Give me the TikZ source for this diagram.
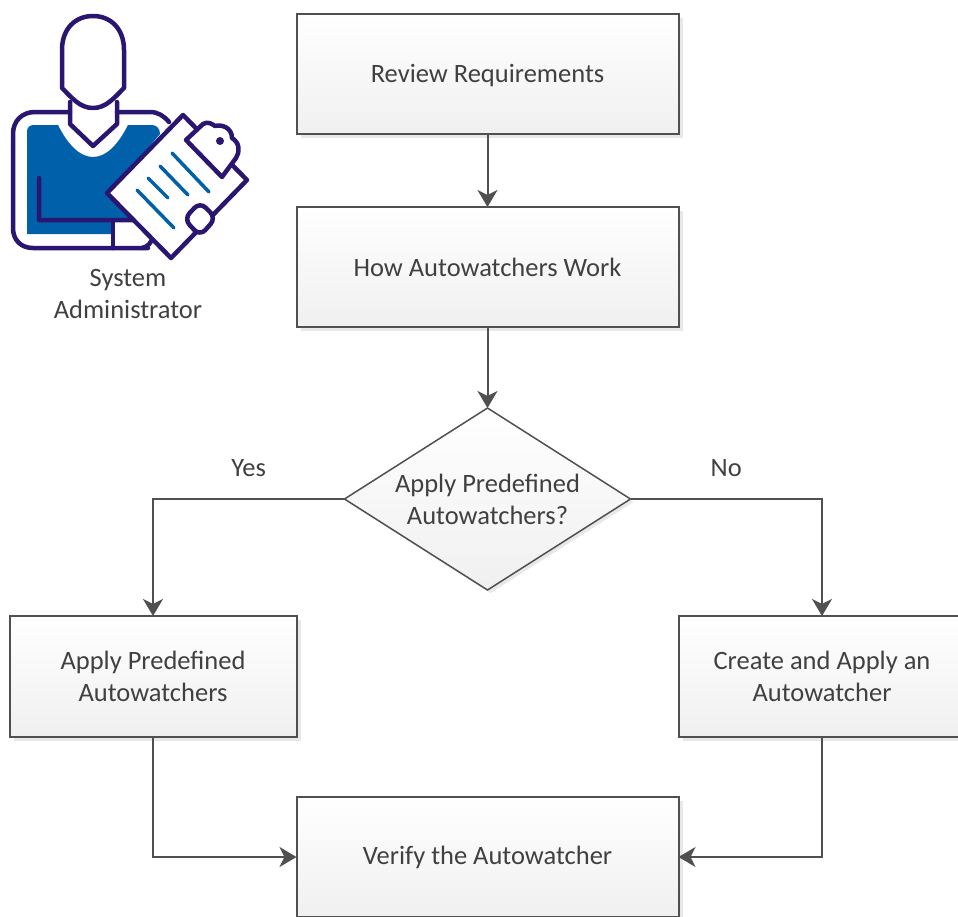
\documentclass[tikz,border=0pt]{standalone}
\usepackage{fontspec}
\setmainfont{Carlito}
\usepackage{xcolor}
\usetikzlibrary{shapes.geometric, arrows.meta, positioning, shadows}
\definecolor{line-gray}{RGB}{80,80,80}
\definecolor{text-gray}{RGB}{64,64,64}
\definecolor{admin-navy}{RGB}{42,22,112}
\definecolor{admin-blue}{RGB}{0,96,169}

\begin{document}
\begin{tikzpicture}[
    x=1pt, y=-1pt,
    box/.style={rectangle, draw=line-gray, line width=2pt, outer sep=0pt, minimum width=382pt, minimum height=120pt, top color=white, bottom color=black!6, drop shadow={shadow xshift=4pt, shadow yshift=-4pt, fill=black!9, opacity=1}, text=text-gray, align=center, font=\fontsize{26.5}{32}\selectfont},
    sidebox/.style={box, minimum width=287pt, minimum height=121pt},
    choice/.style={diamond, draw=line-gray, line width=1.5pt, outer sep=0pt, inner sep=0pt, aspect=1.57, minimum width=286pt, minimum height=182pt, top color=white, bottom color=black!6, drop shadow={shadow xshift=3pt, shadow yshift=-3pt, fill=black!9, opacity=1}, text=text-gray, align=center, font=\fontsize{26.5}{32}\selectfont},
    lbl/.style={text=text-gray, align=center, font=\fontsize{26.5}{32}\selectfont},
    arrow/.style={-{Stealth[length=17pt, width=20pt, inset=5pt]}, line-gray, line width=2pt},
    figure/.style={admin-navy, line width=4.5pt, line join=round, line cap=round}
]
\useasboundingbox (0,0) rectangle (958,916);

% Steps
\node[box, text height=21pt] at (487.5,74) (review) {Review Requirements};
\node[box, below=73pt of review] (how) {How Autowatchers Work};
\node[choice, below=81pt of how] (predef) {Apply Predefined\\Autowatchers?};
\node[sidebox, below left=26pt and 191pt of predef.south] (apply) {Apply Predefined\\Autowatchers};
\node[sidebox, below right=26pt and 191pt of predef.south] (create) {Create and Apply an\\Autowatcher};
\node[box, below=207pt of predef] (verify) {Verify the Autowatcher};

% Arrows
\draw[arrow] (review) -- (how);
\draw[arrow] (how) -- (predef);
\draw[arrow] (predef.west) -| node[pos=0.25, above=18pt, lbl] (yes) {Yes} (apply);
\draw[arrow] (predef.east) -| node[pos=0.25, above=18pt, lbl] (no) {No} (create);
\draw[arrow] (apply) |- (verify.west);
\draw[arrow] (create) |- (verify.east);

% Administrator
\fill[admin-blue] (27,132) .. controls (27,127) and (30,125) .. (34,125) -- (58,125) .. controls (68,145) and (80,157) .. (93,157) .. controls (106,157) and (118,145) .. (128,125) -- (152,125) .. controls (157,125) and (160,129) .. (160,134) -- (108,195) -- (130,218) -- (112,218) -- (112,234) -- (27,234) -- cycle;
\draw[figure] (70,112) -- (35,112) .. controls (22,112) and (13,121) .. (13,134) -- (13,228) .. controls (13,240) and (21,248) .. (33,248) -- (148,248);
\draw[figure] (117,112) -- (150,112) .. controls (158,112) and (164,116) .. (169,122);
\draw[figure] (39,178) -- (39,220) -- (140,220) .. controls (150,220) and (155,228) .. (153,236) .. controls (152,242) and (148,247) .. (142,248);
\draw[figure] (113,220) -- (113,248);
\draw[figure] (70,102) -- (70,124) -- (93,146) -- (117,124) -- (117,102);
\draw[figure, fill=white] (62,50) .. controls (62,28) and (76,16) .. (93,16) .. controls (110,16) and (124,28) .. (124,50) -- (124,88) .. controls (114,98) and (106,108) .. (93,108) .. controls (80,108) and (72,98) .. (62,88) -- cycle;
\draw[figure, fill=white] (183,115) -- (247,180) -- (171,258) -- (107,193) -- cycle;
\draw[figure, fill=white] (186,140) -- (203,124) .. controls (208,121) and (212,124) .. (215,126) .. controls (222,124) and (232,128) .. (232,138) .. controls (240,143) and (240,152) .. (236,158) -- (222,177) -- cycle;
\fill[admin-navy] (220,141) circle (4);
\draw[figure, fill=white, rounded corners=8pt] (200,202) -- (216,218) -- (200,236) -- (184,219) -- cycle;
\foreach \xa/\ya/\xb/\yb in {172/153/209/192, 160/166/188/195, 148/178/168/198, 137/190/174/228}
    \draw[admin-blue, line width=3.5pt, line cap=round] (\xa,\ya) -- (\xb,\yb);
\node[lbl] at (128,294) (admin) {System\\Administrator};

\end{tikzpicture}
\end{document}
